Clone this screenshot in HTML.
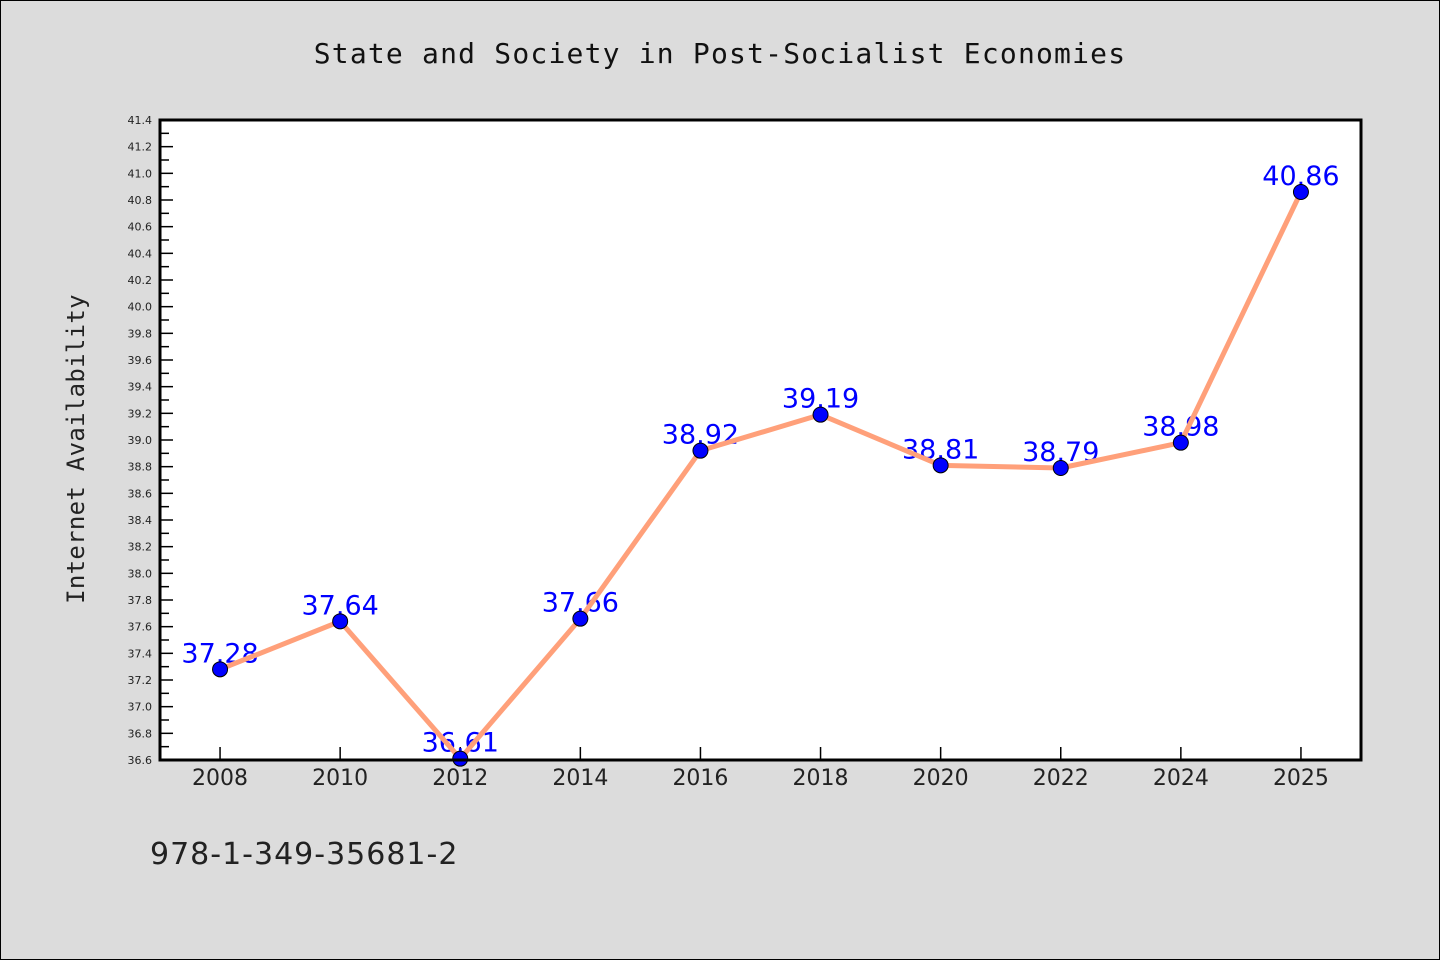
<!DOCTYPE html>
<html><head><meta charset="utf-8"><style>
html,body{margin:0;padding:0;background:#dcdcdc;}
svg{display:block;font-family:"DejaVu Sans","Liberation Sans",sans-serif;}
</style></head><body>
<svg id="chart" width="1440" height="960" viewBox="0 0 1440 960" xmlns="http://www.w3.org/2000/svg">
<rect x="0.5" y="0.5" width="1439" height="959" fill="#dcdcdc" stroke="#000" stroke-width="1"/>
<text x="720" y="63" text-anchor="middle" font-family="DejaVu Sans Mono, monospace" font-size="28" letter-spacing="1.2" fill="#111">State and Society in Post-Socialist Economies</text>
<rect x="160" y="120" width="1201" height="640" fill="#fff"/>
<g id="yticks"></g><g id="xticks"></g>
<g id="labels"></g>
<g id="series"></g>
<rect x="160" y="120" width="1201" height="640" fill="none" stroke="#000" stroke-width="3"/>
<text transform="translate(84,449) rotate(-90)" text-anchor="middle" font-family="DejaVu Sans Mono, monospace" font-size="24" letter-spacing="0.3" fill="#222">Internet Availability</text>
<text x="150" y="864" font-size="30" letter-spacing="1" font-family="DejaVu Sans, sans-serif" fill="#222">978-1-349-35681-2</text>
</svg>
<script>
const categories=["2008","2010","2012","2014","2016","2018","2020","2022","2024","2025"];
const values=[37.28,37.64,36.61,37.66,38.92,39.19,38.81,38.79,38.98,40.86];
const valueLabels=["37.28","37.64","36.61","37.66","38.92","39.19","38.81","38.79","38.98","40.86"];
const yMin=36.6,yMax=41.4;
const NS="http://www.w3.org/2000/svg";
const L=160,R=1361,T=120,B=760;
const step=(R-L)/categories.length;
function x(i){return L+step/2+i*step;}
function y(v){return B-(v-yMin)/(yMax-yMin)*(B-T);}
function mk(tag,attrs,parent){const e=document.createElementNS(NS,tag);for(const k in attrs)e.setAttribute(k,attrs[k]);parent.appendChild(e);return e;}
const yt=document.getElementById('yticks');
for(let k=0;k<=48;k++){
 const v=yMin+k*0.1;const yy=y(v);const major=k%2===0;
 const t=mk('line',{x1:L,x2:L+(major?13:9),y1:yy,y2:yy,stroke:'#000','stroke-width':1.5},yt);
 
 
 if(major){const tx=mk('text',{x:L-8,y:yy+4,'text-anchor':'end','font-size':11,fill:'#222'},yt);tx.textContent=v.toFixed(1);
  
  }
}
const xt=document.getElementById('xticks');
categories.forEach((c,i)=>{
 const t=mk('line',{x1:x(i),x2:x(i),y1:B,y2:B-13,stroke:'#000','stroke-width':1.5},xt);
 
 
 const tx=mk('text',{x:x(i),y:B+25,'text-anchor':'middle','font-size':22,fill:'#222'},xt);tx.textContent=c;
 
 
});
const lb=document.getElementById('labels');
values.forEach((v,i)=>{
 const tx=mk('text',{x:x(i),y:y(v)-7,'text-anchor':'middle','font-size':27,fill:'#0000ff'},lb);tx.textContent=valueLabels[i];
 
 
});
const s=document.getElementById('series');
const pl=mk('polyline',{points:values.map((v,i)=>x(i)+','+y(v)).join(' '),fill:'none',stroke:'#ffa07a','stroke-width':5,'stroke-linejoin':'round'},s);


values.forEach((v,i)=>{
 const c=mk('circle',{cx:x(i),cy:y(v),r:7.5,fill:'#0000ff',stroke:'#000','stroke-width':1},s);
 
 
});
</script>
</body></html>
